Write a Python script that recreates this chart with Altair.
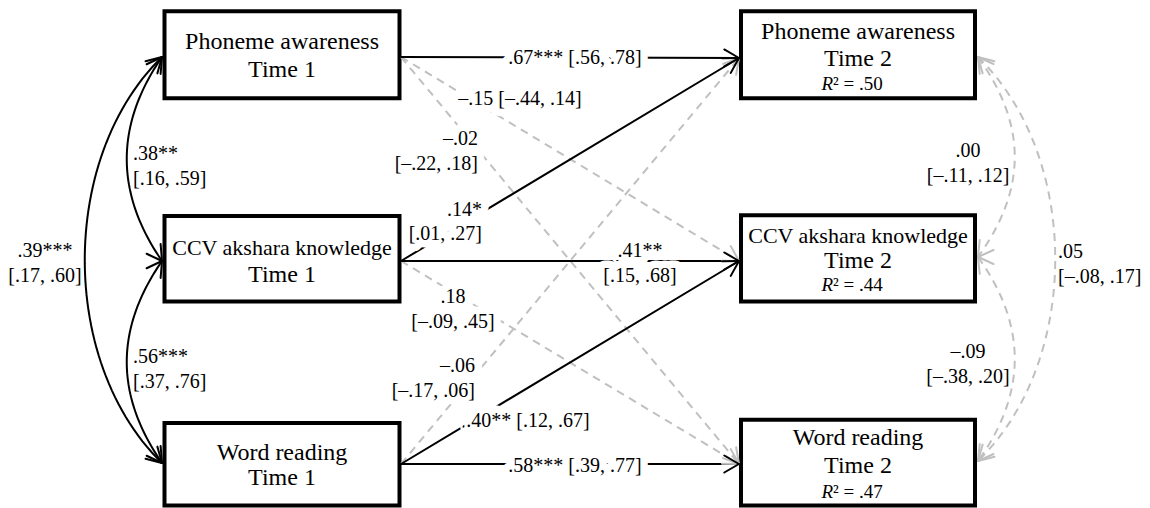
import altair as alt
import numpy as np
import pandas as pd

# ---------------- values ----------------
construct_names = ["Phoneme awareness", "CCV akshara knowledge", "Word reading"]
wave_labels = ["Time 1", "Time 2"]
r2_values = [".50", ".44", ".47"]

# cross-lagged / autoregressive paths: T1 construct -> T2 construct
path_from = [0, 1, 2, 1, 2, 0, 0, 1, 2]
path_to = [0, 1, 2, 0, 1, 1, 2, 2, 0]
path_est = [".67***", ".41**", ".58***", ".14*", ".40**", "–.15", "–.02", ".18", "–.06"]
path_ci = ["[.56, .78]", "[.15, .68]", "[.39, .77]", "[.01, .27]", "[.12, .67]",
           "[–.44, .14]", "[–.22, .18]", "[–.09, .45]", "[–.17, .06]"]
path_significant = [True, True, True, True, True, False, False, False, False]

# covariances (pairs of constructs)
cov_pairs = [(0, 1), (1, 2), (0, 2)]
cov_t1_est = [".38**", ".56***", ".39***"]
cov_t1_ci = ["[.16, .59]", "[.37, .76]", "[.17, .60]"]
cov_t2_est = [".00", "–.09", ".05"]
cov_t2_ci = ["[–.11, .12]", "[–.38, .20]", "[–.08, .17]"]

# ---------------- layout (diagram geometry, pixel space) ----------------
FONT = "Liberation Serif"
left_box_x = (164.5, 399.5)
right_box_x = (741.0, 975.0)
left_box_y = [(11.3, 98.3), (216.0, 301.5), (423.0, 505.5)]
right_box_y = [(11.3, 98.3), (215.3, 301.5), (419.7, 505.5)]
left_box_text_y = [(49, 77), (255, 282), (460, 485)]
right_box_text_y = [(39, 66, 90), (243, 268, 291), (445, 473, 498)]
name_font_size = [24, 22, 24]
left_port_x, right_port_x = 401.0, 739.0
left_port_y = [57, 261, 464]
right_port_y = [58, 261, 464]
cov_left_x, cov_right_x = 162.0, 978.0
cov_left_y = [57, 261, 463]
cov_right_y = [57, 257, 461]
cov_left_ctrl = [(115, 68), (115, 68), (59, 100)]
cov_right_ctrl = [(1027, 68), (1027, 68), (1081, 100)]
ARROW_LEN, ARROW_ANG = 17.0, np.radians(30)

path_label_layout = [
    (575, 64, "center", " "),
    (640, 257, "center", None),
    (575, 472, "center", "  "),
    (482, 216, "right", None),
    (528, 427, "center", " "),
    (520, 105, "center", " "),
    (478, 145, "right", None),
    (453, 303, "center", None),
    (475, 372, "right", None),
]
cov_t1_label_layout = [(133, 160, "left"), (133, 363, "left"), (45, 257, "center")]
cov_t2_label_layout = [(968, 157, "center"), (968, 358, "center"), (1058, 258, "left")]
LINE_GAP = 25

BLACK = "#000000"
GRAY = "#c0c0c0"

# plot area spans page pixels 8..1142 x 8..508
xs = alt.Scale(domain=[8, 1142], nice=False, zero=False)
ys = alt.Scale(domain=[8, 508], nice=False, zero=False, reverse=True)


def arrowhead(tip, direction):
    d = np.asarray(direction, float)
    d = d / np.linalg.norm(d)
    out = []
    for s in (1, -1):
        c, sn = np.cos(s * ARROW_ANG), np.sin(s * ARROW_ANG)
        r = np.array([d[0] * c - d[1] * sn, d[0] * sn + d[1] * c])
        b = np.asarray(tip) - ARROW_LEN * r
        out.append({"x": tip[0], "y": tip[1], "x2": b[0], "y2": b[1]})
    return out


def cubic(p0, p1, p2, p3, n=60):
    t = np.linspace(0, 1, n)[:, None]
    pts = ((1 - t) ** 3) * p0 + 3 * ((1 - t) ** 2) * t * p1 + 3 * (1 - t) * t ** 2 * p2 + t ** 3 * p3
    return pts


# ---- straight paths ----
solid_rules, dashed_rules, black_heads, gray_heads = [], [], [], []
for i in range(len(path_from)):
    a = np.array([left_port_x, left_port_y[path_from[i]]])
    b = np.array([right_port_x, right_port_y[path_to[i]]])
    seg = {"x": a[0], "y": a[1], "x2": b[0], "y2": b[1]}
    if path_significant[i]:
        solid_rules.append(seg)
        black_heads += arrowhead(b, b - a)
    else:
        dashed_rules.append(seg)
        gray_heads += arrowhead(b, b - a)

# ---- covariance curves ----
curve_rows_black, curve_rows_gray = [], []
for k, (i, j) in enumerate(cov_pairs):
    # Time 1 (left, solid)
    cx, kk = cov_left_ctrl[k]
    p0 = np.array([cov_left_x, cov_left_y[i]]); p3 = np.array([cov_left_x, cov_left_y[j]])
    p1 = np.array([cx, p0[1] + kk]); p2 = np.array([cx, p3[1] - kk])
    for n, (x, y) in enumerate(cubic(p0, p1, p2, p3)):
        curve_rows_black.append({"x": x, "y": y, "cid": f"L{k}", "ord": n})
    black_heads += arrowhead(p0, p0 - p1)
    black_heads += arrowhead(p3, p3 - p2)
    # Time 2 (right, dashed gray)
    cx, kk = cov_right_ctrl[k]
    p0 = np.array([cov_right_x, cov_right_y[i]]); p3 = np.array([cov_right_x, cov_right_y[j]])
    p1 = np.array([cx, p0[1] + kk]); p2 = np.array([cx, p3[1] - kk])
    for n, (x, y) in enumerate(cubic(p0, p1, p2, p3)):
        curve_rows_gray.append({"x": x, "y": y, "cid": f"R{k}", "ord": n})
    gray_heads += arrowhead(p0, p0 - p1)
    gray_heads += arrowhead(p3, p3 - p2)

# ---- boxes ----
boxes = []
for i in range(3):
    boxes.append({"x": left_box_x[0], "x2": left_box_x[1], "y": left_box_y[i][0], "y2": left_box_y[i][1]})
    boxes.append({"x": right_box_x[0], "x2": right_box_x[1], "y": right_box_y[i][0], "y2": right_box_y[i][1]})

# ---- texts ----
box_text, r2_R, r2_rest = [], [], []
lcx = sum(left_box_x) / 2
rcx = sum(right_box_x) / 2
for i in range(3):
    fs = name_font_size[i]
    box_text.append({"x": lcx, "y": left_box_text_y[i][0], "t": construct_names[i], "fs": fs})
    box_text.append({"x": lcx, "y": left_box_text_y[i][1], "t": wave_labels[0], "fs": 24})
    box_text.append({"x": rcx, "y": right_box_text_y[i][0], "t": construct_names[i], "fs": fs})
    box_text.append({"x": rcx, "y": right_box_text_y[i][1], "t": wave_labels[1], "fs": 24})
    r2_R.append({"x": rcx - 25, "y": right_box_text_y[i][2], "t": "R"})
    r2_rest.append({"x": rcx - 25, "y": right_box_text_y[i][2], "t": "² = " + r2_values[i]})

labels = {"center": [], "right": [], "left": []}
halo_labels = {"center": [], "right": [], "left": []}
for i, (x, y, al, sep) in enumerate(path_label_layout):
    if sep is not None:
        halo_labels[al].append({"x": x, "y": y, "t": path_est[i] + sep + path_ci[i]})
    else:
        halo_labels[al].append({"x": x, "y": y, "t": path_est[i]})
        halo_labels[al].append({"x": x, "y": y + LINE_GAP - (1 if i == 3 else 0), "t": path_ci[i]})
for k in range(3):
    x, y, al = cov_t1_label_layout[k]
    labels[al].append({"x": x, "y": y, "t": cov_t1_est[k]})
    labels[al].append({"x": x, "y": y + LINE_GAP, "t": cov_t1_ci[k]})
    x, y, al = cov_t2_label_layout[k]
    labels[al].append({"x": x, "y": y, "t": cov_t2_est[k]})
    labels[al].append({"x": x, "y": y + LINE_GAP, "t": cov_t2_ci[k]})

X = alt.X("x:Q", scale=xs, axis=None)
Y = alt.Y("y:Q", scale=ys, axis=None)


def rules(rows, color, width, dash=None):
    kw = dict(color=color, strokeWidth=width, strokeCap="butt")
    if dash:
        kw["strokeDash"] = dash
    else:
        kw["strokeCap"] = "round"
    return alt.Chart(pd.DataFrame(rows)).mark_rule(**kw).encode(x=X, y=Y, x2="x2:Q", y2="y2:Q")


def curves(rows, color, width, dash=None):
    kw = dict(color=color, strokeWidth=width, interpolate="linear")
    if dash:
        kw["strokeDash"] = dash
    return alt.Chart(pd.DataFrame(rows)).mark_line(**kw).encode(
        x=X, y=Y, detail="cid:N", order="ord:Q")


def texts(rows, align, size, halo=False, style="normal"):
    if not rows:
        return None
    kw = dict(align=align, baseline="alphabetic", font=FONT, fontSize=size, fontStyle=style)
    if halo:
        kw.update(color="white", stroke="white", strokeWidth=15, strokeJoin="round")
    else:
        kw.update(color="black")
    return alt.Chart(pd.DataFrame(rows)).mark_text(**kw).encode(x=X, y=Y, text="t:N")


layers = [
    alt.Chart(pd.DataFrame(boxes)).mark_rect(fill="white", stroke="black", strokeWidth=4).encode(
        x=X, y=Y, x2="x2:Q", y2="y2:Q"),
    rules(dashed_rules, GRAY, 2, [8, 6]),
    curves(curve_rows_gray, GRAY, 2, [8, 6]),
    rules(solid_rules, BLACK, 2),
    curves(curve_rows_black, BLACK, 2),
    rules(gray_heads, GRAY, 2),
    rules(black_heads, BLACK, 2),
]
for al in ("center", "right", "left"):
    t = texts(halo_labels[al], al, 20, halo=True)
    if t is not None:
        layers.append(t)
for al in ("center", "right", "left"):
    for src in (halo_labels, labels):
        t = texts(src[al], al, 20)
        if t is not None:
            layers.append(t)
layers.append(
    alt.Chart(pd.DataFrame(box_text)).mark_text(
        align="center", baseline="alphabetic", font=FONT, color="black"
    ).encode(x=X, y=Y, text="t:N", size=alt.Size("fs:Q", scale=None, legend=None))
)
layers.append(texts(r2_R, "right", 19, style="italic"))
layers.append(texts(r2_rest, "left", 19))

chart = alt.layer(*layers).properties(
    width=1134, height=500, padding=0, background="white",
    autosize=alt.AutoSizeParams(type="none"),
).configure_view(strokeWidth=0, stroke="transparent")

chart.save("out.html", embed_options={"renderer": "svg", "actions": False})
